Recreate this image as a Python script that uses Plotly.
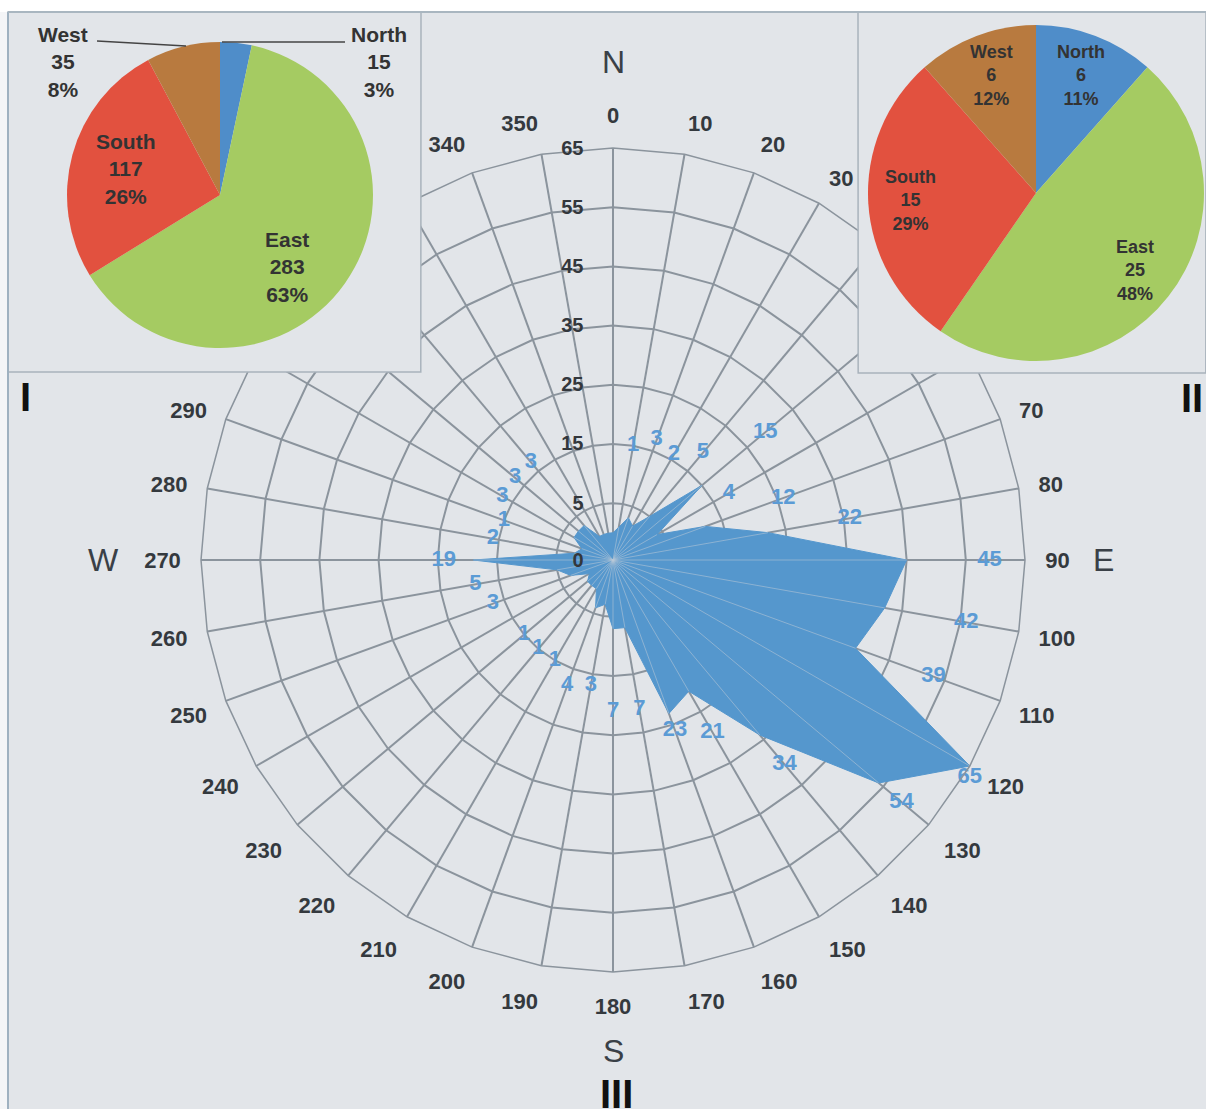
import math
import plotly.graph_objects as go

W, H = 1206, 1109

# ---------------- data ----------------
directions = [str(d) for d in range(0, 360, 10)]
counts = [0, 1, 3, 2, 5, 15, 4, 12, 22, 45, 42, 39, 65, 54, 34, 21, 23, 7,
          7, 3, 4, 1, 1, 1, 0, 3, 5, 19, 2, 1, 3, 3, 3, 0, 0, 0]

radial_ticks = [5, 15, 25, 35, 45, 55, 65]
radial_min = -4.6
radial_max = 65
radial_min_label = "0"

pie_labels = ["North", "East", "South", "West"]
pie1_values = [15, 283, 117, 35]
pie1_pct = ["3%", "63%", "26%", "8%"]
pie2_values = [6, 25, 15, 6]
pie2_pct = ["11%", "48%", "29%", "12%"]

compass_letters = ["N", "E", "S", "W"]
compass_angles = [0, 90, 180, 270]
quadrant_labels = ["I", "II", "III"]

# direction labels that sit under the inset boxes (not visible)
hidden_direction_labels = ["40", "50", "60", "300", "310", "320", "330"]

# ---------------- styles / layout ----------------
FONT = "Liberation Sans"
BG = "#e2e5e9"
GRID = "#8b949d"
FILL = "#5597cd"
LABEL_BLUE = "#5b9bd5"
TICK_COLOR = "#34393e"
BOX_LINE = "#a9b3bc"
PIE_TEXT = "#333333"
pie_colors = ["#4f8dc9", "#a5cb62", "#e2513f", "#b87a3f"]

cx, cy, R = 613, 560, 412          # polar centre / radius (px)
p1x, p1y, p1r = 220, 195, 153      # pie 1 centre / radius (px)
p2x, p2y, p2r = 1036, 193, 168     # pie 2 centre / radius (px)
compass_dist = [498, 490, 491, 510]  # px from centre

# value labels sit this far (in axis units) outside their point;
# a few were moved closer in the original
label_gap_default = 14
label_gap_special = {"120": 2, "130": 5, "140": 6.5, "150": 8, "160": 3, "270": 5}
label_pos_special = {"120": "bottom center"}


def px(x):
    return x / W


def py(y):
    return 1 - y / H


fig = go.Figure()

# inset boxes (funnelarea layer sits between polar and pie layers)
fig.add_trace(go.Funnelarea(
    values=[1], domain=dict(x=[px(8), px(421)], y=[py(372), py(12)]),
    aspectratio=(372 - 12) / (421 - 8), baseratio=1,
    marker=dict(colors=[BG], line=dict(color=BOX_LINE, width=1.5)),
    textinfo="none", hoverinfo="skip", showlegend=False))
fig.add_trace(go.Funnelarea(
    values=[1], domain=dict(x=[px(858), 1.0], y=[py(373), py(12)]),
    aspectratio=(373 - 12) / (W - 858), baseratio=1,
    marker=dict(colors=[BG], line=dict(color=BOX_LINE, width=1.5)),
    textinfo="none", hoverinfo="skip", showlegend=False))

# radar area
theta_closed = directions + directions[:1]
r_closed = counts + counts[:1]
fig.add_trace(go.Scatterpolar(
    r=r_closed, theta=theta_closed, mode="lines", fill="toself",
    fillcolor=FILL, line=dict(color=FILL, width=1), hoverinfo="skip",
    showlegend=False))

# light spokes over the filled area
sp_theta, sp_r = [], []
for d, v in zip(directions, counts):
    if v > 0:
        sp_theta += [d, d, None]
        sp_r += [radial_min, v, None]
fig.add_trace(go.Scatterpolar(
    r=sp_r, theta=sp_theta, mode="lines",
    line=dict(color="rgba(185,200,215,0.55)", width=1),
    hoverinfo="skip", showlegend=False))

# value labels
lab_r = [min(v + label_gap_special.get(d, label_gap_default), radial_max)
         for d, v in zip(directions, counts)]
lab_txt = [f"<b>{v}</b>" if v > 0 else "" for v in counts]
lab_pos = [label_pos_special.get(d, "middle center") for d in directions]
fig.add_trace(go.Scatterpolar(
    r=lab_r, theta=directions, mode="text", text=lab_txt, textposition=lab_pos,
    textfont=dict(family=FONT, size=22, color=LABEL_BLUE),
    cliponaxis=False, hoverinfo="skip", showlegend=False))

# pies
for vals, (ccx, ccy, rr) in [(pie1_values, (p1x, p1y, p1r)), (pie2_values, (p2x, p2y, p2r))]:
    fig.add_trace(go.Pie(
        labels=pie_labels, values=vals,
        sort=False, direction="clockwise", rotation=0,
        marker=dict(colors=pie_colors, line=dict(width=0)),
        textinfo="none",
        domain=dict(x=[px(ccx - rr), px(ccx + rr)], y=[py(ccy + rr), py(ccy - rr)]),
        hoverinfo="skip", showlegend=False))

direction_ticktext = ["" if d in hidden_direction_labels else d for d in directions]

fig.update_layout(
    width=W, height=H, autosize=False,
    margin=dict(l=0, r=0, t=0, b=0),
    paper_bgcolor=BG, plot_bgcolor=BG,
    showlegend=False,
    polar=dict(
        domain=dict(x=[px(cx - R), px(cx + R)], y=[py(cy + R), py(cy - R)]),
        bgcolor="rgba(0,0,0,0)",
        gridshape="linear",
        angularaxis=dict(
            type="category", categoryorder="array", categoryarray=directions,
            tickmode="array", tickvals=directions, ticktext=direction_ticktext,
            rotation=90, direction="clockwise",
            showgrid=True, gridcolor=GRID, gridwidth=1.5,
            showline=True, linecolor=GRID, linewidth=1.5,
            ticks="outside", ticklen=15, tickcolor="rgba(0,0,0,0)",
            tickfont=dict(family=FONT, size=22, color=TICK_COLOR, weight="bold")),
        radialaxis=dict(
            range=[radial_min, radial_max],
            tickvals=[radial_min] + radial_ticks,
            ticktext=[radial_min_label] + [str(t) for t in radial_ticks],
            angle=90, tickangle=90, side="counterclockwise",
            showline=False, ticks="outside", ticklen=22, tickcolor="rgba(0,0,0,0)",
            showgrid=True, gridcolor=GRID, gridwidth=1.5,
            tickfont=dict(family=FONT, size=20, color="#33373c", weight="bold")),
    ),
)

shapes = [
    # light strips outside the frame
    dict(type="rect", xref="paper", yref="paper", x0=0, x1=px(8), y0=0, y1=1,
         fillcolor="#f4f5f7", line=dict(width=0), layer="below"),
    dict(type="rect", xref="paper", yref="paper", x0=0, x1=1, y0=py(12), y1=1,
         fillcolor="#ffffff", line=dict(width=0), layer="below"),
    # frame lines
    dict(type="line", xref="paper", yref="paper", x0=px(8), x1=px(8), y0=0, y1=py(12),
         line=dict(color="#9fb1c0", width=2)),
    dict(type="line", xref="paper", yref="paper", x0=px(8), x1=1, y0=py(12), y1=py(12),
         line=dict(color="#a9b6c0", width=2)),
    # leader lines for the outside labels of pie 1
    dict(type="line", xref="paper", yref="paper", x0=px(97), x1=px(186), y0=py(41), y1=py(46),
         line=dict(color="#444444", width=1.5)),
    dict(type="line", xref="paper", yref="paper", x0=px(222), x1=px(345), y0=py(42), y1=py(42),
         line=dict(color="#444444", width=1.5)),
]

annotations = []


def add_text(x, y, text, size, color, bold=True, yanchor="middle"):
    annotations.append(dict(
        x=px(x), y=py(y), xref="paper", yref="paper", showarrow=False,
        xanchor="center", yanchor=yanchor, align="center",
        text=f"<b>{text}</b>" if bold else text,
        font=dict(family=FONT, size=size, color=color)))


# pie slice labels placed along each slice's middle angle
def pie_text(vals, pcts, ccx, ccy, rr, frac, size, skip=(), turn=None):
    total = sum(vals)
    cum = 0
    turn = turn or {}
    for i, v in enumerate(vals):
        mid = (cum + v / 2) / total * 2 * math.pi + math.radians(turn.get(i, 0))
        cum += v
        if i in skip:
            continue
        x = ccx + frac * rr * math.sin(mid)
        y = ccy - frac * rr * math.cos(mid)
        add_text(x, y, f"{pie_labels[i]}<br>{v}<br>{pcts[i]}", size, PIE_TEXT)


pie_text(pie1_values, pie1_pct, p1x, p1y, p1r, 0.64, 21, skip=(0, 3), turn={1: 12})
pie_text(pie2_values, pie2_pct, p2x, p2y, p2r, 0.75, 18)

# outside labels of the first pie
for i, (ax_, ay_) in zip([3, 0], [(63, 62), (379, 62)]):
    add_text(ax_, ay_, f"{pie_labels[i]}<br>{pie1_values[i]}<br>{pie1_pct[i]}", 21, PIE_TEXT)

# compass letters
for lt, ang, dist in zip(compass_letters, compass_angles, compass_dist):
    a = math.radians(ang)
    add_text(cx + dist * math.sin(a), cy - dist * math.cos(a), lt, 32, "#3a4047", bold=False)

# quadrant numerals
for lt, (qx, qy), anc in zip(quadrant_labels, [(25, 397), (1192, 398), (616, 1070)],
                             ["middle", "middle", "top"]):
    add_text(qx, qy, lt, 40, "#111111", yanchor=anc)

fig.update_layout(shapes=shapes, annotations=annotations)

fig.write_html("out.html")
